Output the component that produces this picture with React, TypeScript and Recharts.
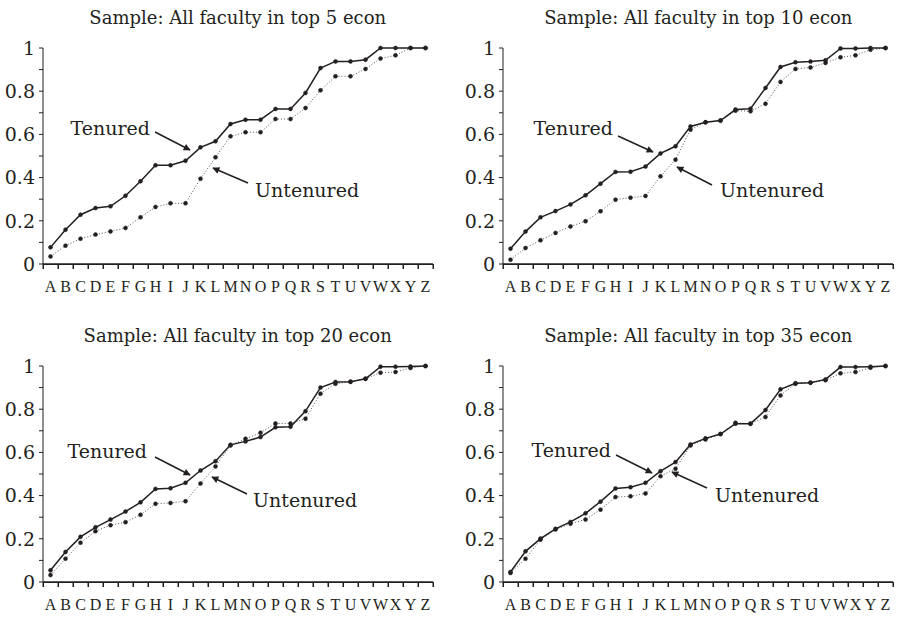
import React from 'react';
import { LineChart, Line, XAxis, YAxis } from 'recharts';

const letters = ['A','B','C','D','E','F','G','H','I','J','K','L','M','N','O','P','Q','R','S','T','U','V','W','X','Y','Z'];
const yTicks = [0, 0.1, 0.2, 0.3, 0.4, 0.5, 0.6, 0.7, 0.8, 0.9, 1];
const yLabels: Record<string, string> = { '0': '0', '0.2': '0.2', '0.4': '0.4', '0.6': '0.6', '0.8': '0.8', '1': '1' };

const titles = [
  'Sample: All faculty in top 5 econ',
  'Sample: All faculty in top 10 econ',
  'Sample: All faculty in top 20 econ',
  'Sample: All faculty in top 35 econ',
];

const top5Tenured = [0.077,0.159,0.228,0.259,0.267,0.316,0.383,0.457,0.457,0.478,0.540,0.568,0.648,0.668,0.668,0.718,0.718,0.792,0.907,0.938,0.938,0.946,1,1,1,1];
const top5Untenured = [0.035,0.085,0.117,0.136,0.151,0.167,0.216,0.264,0.281,0.281,0.395,0.494,0.591,0.610,0.610,0.671,0.671,0.722,0.804,0.869,0.869,0.903,0.951,0.966,1,1];
const top10Tenured = [0.071,0.150,0.216,0.245,0.276,0.318,0.372,0.426,0.427,0.451,0.512,0.545,0.637,0.656,0.664,0.715,0.719,0.815,0.912,0.934,0.937,0.943,0.998,0.998,1,1];
const top10Untenured = [0.020,0.074,0.110,0.144,0.174,0.198,0.244,0.298,0.307,0.315,0.406,0.483,0.622,0.656,0.664,0.710,0.707,0.742,0.843,0.903,0.910,0.931,0.957,0.966,0.992,1];
const top20Tenured = [0.054,0.139,0.209,0.253,0.289,0.326,0.369,0.431,0.434,0.459,0.516,0.559,0.635,0.651,0.671,0.716,0.719,0.791,0.900,0.926,0.927,0.941,0.997,0.997,0.998,1];
const top20Untenured = [0.032,0.108,0.182,0.235,0.263,0.277,0.311,0.362,0.366,0.374,0.456,0.535,0.632,0.663,0.691,0.734,0.734,0.756,0.872,0.918,0.927,0.941,0.969,0.972,0.991,1];
const top35Tenured = [0.046,0.142,0.201,0.246,0.278,0.318,0.372,0.433,0.439,0.459,0.513,0.555,0.637,0.665,0.685,0.733,0.733,0.796,0.892,0.920,0.923,0.938,0.995,0.995,0.997,1];
const top35Untenured = [0.042,0.108,0.196,0.243,0.270,0.289,0.335,0.393,0.397,0.410,0.490,0.524,0.632,0.660,0.685,0.737,0.733,0.764,0.864,0.918,0.923,0.934,0.966,0.972,0.992,1];

const INK = '#231f20';
const SERIF = '"DejaVu Serif", serif';
const LSERIF = '"Liberation Serif", serif';
const X_TICK = 5;
const X_MARGIN = 12;
const Y_AXIS_W = 43;
const CHART_H = 300;
const M_TOP = 48;
const X_AXIS_H = 36;

const boundaries = letters.map((_, i) => i).concat([letters.length]);

function buildData(ten: number[], unt: number[]) {
  return letters.map((l, i) => ({ pos: i + 0.5, letter: l, tenured: ten[i], untenured: unt[i] }));
}

const panels = [
  { left: 0, top: 0, width: 449, right: 16, data: buildData(top5Tenured, top5Untenured) },
  { left: 460, top: 0, width: 438, right: 5, data: buildData(top10Tenured, top10Untenured) },
  { left: 0, top: 318, width: 449, right: 16, data: buildData(top20Tenured, top20Untenured) },
  { left: 460, top: 318, width: 438, right: 5, data: buildData(top35Tenured, top35Untenured) },
];

// annotation layout (page pixels)
const notes = [
  { title: [237.7, 24], ten: [150, 135], tenArrow: [155, 132, 190, 150], unt: [255, 197], untArrow: [248, 183, 213, 168] },
  { title: [698.3, 24], ten: [613, 135], tenArrow: [618, 136, 653, 152], unt: [720, 197], untArrow: [712, 185, 677, 167] },
  { title: [237.7, 342], ten: [147, 458], tenArrow: [155, 457, 190, 475], unt: [253, 507], untArrow: [247, 494, 212, 477] },
  { title: [698.3, 342], ten: [611, 457], tenArrow: [616, 455, 652, 473], unt: [715, 502], untArrow: [707, 488, 672, 472] },
];

// Tick mark at each band boundary; the band's letter is drawn at the band centre.
function LetterTick(props: any) {
  const { x, y, index, width } = props;
  const w = width || 390;
  const half = w / letters.length / 2;
  const axisY = y - X_TICK - X_MARGIN;
  return (
    <g>
      {index === 0 ? <line x1={x} y1={axisY} x2={x + w} y2={axisY} stroke={INK} strokeWidth={1} /> : null}
      <line x1={x} y1={axisY} x2={x} y2={axisY + X_TICK} stroke={INK} strokeWidth={1} />
      {index < letters.length ? (
        <text x={x + half} y={y} dy="0.71em" textAnchor="middle" fontFamily={LSERIF} fontSize={16} fill={INK}>
          {letters[index]}
        </text>
      ) : null}
    </g>
  );
}

function Panel({ p }: { p: typeof panels[number] }) {
  return (
    <div style={{ position: 'absolute', left: p.left, top: p.top }}>
      <LineChart width={p.width} height={CHART_H} data={p.data} margin={{ top: M_TOP, right: p.right, left: 0, bottom: 0 }}>
        <XAxis
          dataKey="pos"
          type="number"
          domain={[0, 26]}
          allowDataOverflow
          ticks={boundaries}
          interval={0}
          tick={<LetterTick />}
          tickSize={X_TICK}
          tickMargin={X_MARGIN}
          height={X_AXIS_H}
          stroke={INK}
          tickLine={false}
          axisLine={{ stroke: INK, strokeWidth: 1 }}
        />
        <YAxis
          type="number"
          domain={[0, 1]}
          ticks={yTicks}
          interval={0}
          width={Y_AXIS_W}
          tickSize={4}
          tickMargin={4}
          tickFormatter={(v: number) => yLabels[String(Math.round(v * 10) / 10)] ?? ''}
          tick={{ fontSize: 19, fontFamily: SERIF, fill: INK }}
          stroke={INK}
          tickLine={{ stroke: INK }}
          axisLine={{ stroke: INK }}
        />
        <Line
          dataKey="untenured"
          stroke="#555"
          strokeWidth={1}
          strokeDasharray="1 2"
          dot={{ r: 2, fill: INK, stroke: INK, strokeWidth: 0.5, strokeDasharray: '' }}
          isAnimationActive={false}
        />
        <Line
          dataKey="tenured"
          stroke={INK}
          strokeWidth={1.5}
          dot={{ r: 2, fill: INK, stroke: INK, strokeWidth: 0.5 }}
          isAnimationActive={false}
        />
      </LineChart>
    </div>
  );
}

// Baseline with boundary ticks for a panel, on the overlay layer.
function BaseAxis({ p }: { p: typeof panels[number] }) {
  const x0 = p.left + Y_AXIS_W;
  const w = p.width - Y_AXIS_W - p.right;
  const y0 = p.top + CHART_H - X_AXIS_H;
  return (
    <g>
      <line x1={x0} y1={y0 + 0.5} x2={x0 + w} y2={y0 + 0.5} stroke={INK} strokeWidth={1} />
      {boundaries.map((b) => (
        <line key={b} x1={x0 + (b * w) / letters.length + 0.5} y1={y0} x2={x0 + (b * w) / letters.length + 0.5} y2={y0 + X_TICK} stroke={INK} strokeWidth={1} />
      ))}
    </g>
  );
}

export default function App() {
  return (
    <div style={{ position: 'absolute', left: 0, top: 0, width: 898, height: 618, overflow: 'hidden', background: '#fff' }}>
      {panels.map((p, i) => (
        <Panel key={i} p={p} />
      ))}
      <svg width={898} height={618} style={{ position: 'absolute', left: 0, top: 0, pointerEvents: 'none' }}>
        <defs>
          <marker id="arr" viewBox="0 0 10 10" refX="9" refY="5" markerUnits="userSpaceOnUse" markerWidth="9" markerHeight="7" orient="auto">
            <path d="M0,0 L10,5 L0,10 z" fill={INK} />
          </marker>
        </defs>
        {panels.map((p, i) => (
          <BaseAxis key={'ax' + i} p={p} />
        ))}
        {notes.map((n, i) => (
          <g key={i}>
            <text x={n.title[0]} y={n.title[1]} textAnchor="middle" fontFamily={SERIF} fontSize={18} fill={INK}>{titles[i]}</text>
            <text x={n.ten[0]} y={n.ten[1]} textAnchor="end" fontFamily={SERIF} fontSize={19} fill={INK}>Tenured</text>
            <line x1={n.tenArrow[0]} y1={n.tenArrow[1]} x2={n.tenArrow[2]} y2={n.tenArrow[3]} stroke={INK} strokeWidth={1.5} markerEnd="url(#arr)" />
            <text x={n.unt[0]} y={n.unt[1]} textAnchor="start" fontFamily={SERIF} fontSize={19} fill={INK}>Untenured</text>
            <line x1={n.untArrow[0]} y1={n.untArrow[1]} x2={n.untArrow[2]} y2={n.untArrow[3]} stroke={INK} strokeWidth={1.5} markerEnd="url(#arr)" />
          </g>
        ))}
      </svg>
    </div>
  );
}
